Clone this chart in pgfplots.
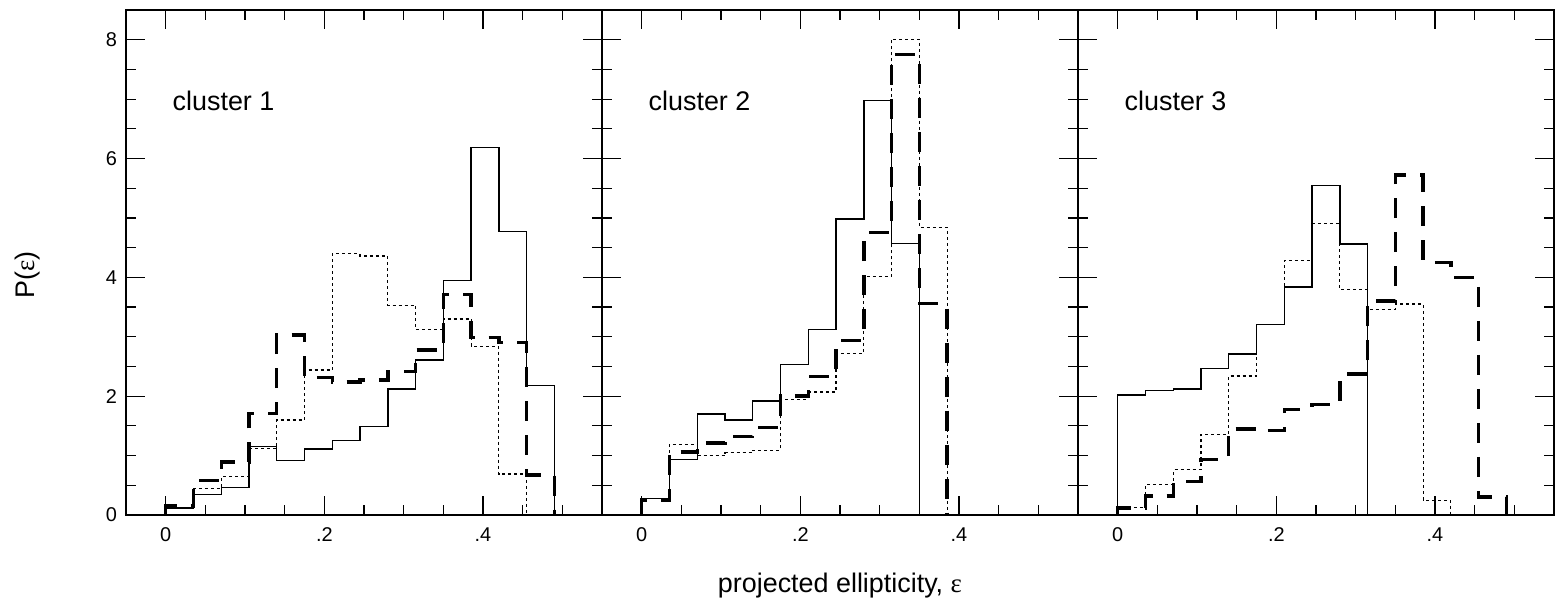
\documentclass[border=0pt]{standalone}
\usepackage{fontspec}
\setmainfont{Liberation Sans}
\newfontfamily\symf{Liberation Serif}
\usepackage{pgfplots}
\pgfplotsset{compat=1.18}
\usepgfplotslibrary{groupplots}
\pgfplotsset{
  solidh/.style={black, line width=0.7bp, const plot, mark=none},
  dotth/.style={black, line width=0.6bp, dash pattern=on 1.5bp off 1.5bp, const plot, mark=none},
  dashh/.style={black, line width=1.7bp, dash pattern=on 10bp off 7bp, const plot, mark=none},
}
\begin{document}
\begin{tikzpicture}
\begin{groupplot}[
  group style={group size=3 by 1, horizontal sep=0pt, y descriptions at=edge left},
  width=238bp, height=252.5bp, scale only axis,
  xmin=-0.05, xmax=0.55, ymin=0, ymax=8.5,
  xtick={0,0.2,0.4}, xticklabels={0,.2,.4},
  minor xtick={0.05,0.1,0.15,0.25,0.3,0.35,0.45,0.5},
  ytick={0,2,4,6,8},
  minor ytick={0.5,1,1.5,2.5,3,3.5,4.5,5,5.5,6.5,7,7.5,8},
  xtick pos=both, ytick pos=both, tick align=inside,
  major tick length=9.5bp, minor tick length=5bp,
  every tick/.style={black, line width=0.6bp},
  every minor tick/.style={black, line width=0.6bp},
  axis line style={black, line width=0.7bp},
  ticklabel style={font=\fontsize{10}{12}\selectfont},
  xticklabel style={yshift=-3bp},
  yticklabel style={xshift=-1bp},
  /pgf/number format/assume math mode=true,
]
\nextgroupplot
\addplot[solidh] coordinates {(0,0)(0,0.12)(0.035,0.35)(0.07,0.46)(0.105,1.15)(0.14,0.92)(0.175,1.11)(0.21,1.25)(0.245,1.49)(0.28,2.12)(0.315,2.61)(0.35,3.95)(0.385,6.19)(0.42,4.77)(0.455,2.18)(0.49,0)};
\addplot[dotth] coordinates {(0,0)(0,0.13)(0.035,0.45)(0.07,0.65)(0.105,1.12)(0.14,1.60)(0.175,2.44)(0.21,4.40)(0.245,4.36)(0.28,3.53)(0.315,3.12)(0.35,3.30)(0.385,2.84)(0.42,0.69)(0.455,0)};
\addplot[dashh] coordinates {(0,0)(0,0.15)(0.035,0.58)(0.07,0.89)(0.105,1.71)(0.14,3.03)(0.175,2.31)(0.21,2.24)(0.245,2.27)(0.28,2.42)(0.315,2.78)(0.35,3.71)(0.385,2.99)(0.42,2.90)(0.455,0.67)(0.49,0)};
\node[anchor=base west, font=\fontsize{13.5}{16}\selectfont] at (axis cs:0,6.8) {cluster 1};
\nextgroupplot
\addplot[solidh] coordinates {(0,0)(0,0.28)(0.035,0.93)(0.07,1.70)(0.105,1.60)(0.14,1.92)(0.175,2.53)(0.21,3.12)(0.245,4.98)(0.28,6.98)(0.315,4.57)(0.35,0)};
\addplot[dotth] coordinates {(0,0)(0,0.28)(0.035,1.19)(0.07,1.00)(0.105,1.05)(0.14,1.09)(0.175,1.95)(0.21,2.07)(0.245,2.72)(0.28,4.01)(0.315,8.01)(0.35,4.84)(0.385,0)};
\addplot[dashh] coordinates {(0,0)(0,0.25)(0.035,1.06)(0.07,1.21)(0.105,1.32)(0.14,1.47)(0.175,2.00)(0.21,2.33)(0.245,2.94)(0.28,4.75)(0.315,7.75)(0.35,3.56)(0.385,0)};
\node[anchor=base west, font=\fontsize{13.5}{16}\selectfont] at (axis cs:0,6.8) {cluster 2};
\nextgroupplot
\addplot[solidh] coordinates {(0,0)(0,2.02)(0.035,2.10)(0.07,2.12)(0.105,2.47)(0.14,2.71)(0.175,3.21)(0.21,3.84)(0.245,5.55)(0.28,4.56)(0.315,0)};
\addplot[dotth] coordinates {(0,0)(0,0.13)(0.035,0.51)(0.07,0.76)(0.105,1.35)(0.14,2.34)(0.175,3.21)(0.21,4.29)(0.245,4.91)(0.28,3.79)(0.315,3.46)(0.35,3.55)(0.385,0.25)(0.42,0)};
\addplot[dashh] coordinates {(0,0)(0,0.12)(0.035,0.32)(0.07,0.56)(0.105,0.93)(0.14,1.45)(0.175,1.42)(0.21,1.78)(0.245,1.86)(0.28,2.37)(0.315,3.60)(0.35,5.72)(0.385,4.25)(0.42,4.00)(0.455,0.30)(0.49,0)};
\node[anchor=base west, font=\fontsize{13.5}{16}\selectfont] at (axis cs:0,6.8) {cluster 3};
\end{groupplot}
\node[anchor=base, font=\fontsize{13.5}{16}\selectfont] at ([yshift=-38.5bp]group c2r1.south) {projected ellipticity, {\symf ε}};
\node[rotate=90, anchor=center, font=\fontsize{13.5}{16}\selectfont] at ([xshift=-49bp, yshift=-6.25bp]group c1r1.west) {P({\symf ε})};
\pgfresetboundingbox
\path[use as bounding box] ([xshift=-63bp,yshift=-45bp]group c1r1.south west) rectangle ([xshift=7bp,yshift=5bp]group c3r1.north east);
\end{tikzpicture}
\end{document}
